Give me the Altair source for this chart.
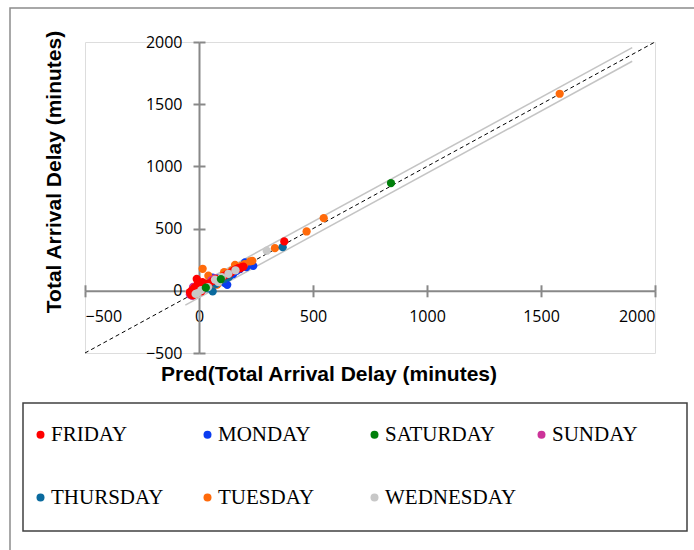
import altair as alt
import pandas as pd

# ---------------- data ----------------
days = ["FRIDAY", "MONDAY", "SATURDAY", "SUNDAY", "THURSDAY", "TUESDAY", "WEDNESDAY"]
colors = ["#FF0000", "#0A3CF0", "#00800A", "#CC3399", "#0A6A9E", "#FF6A0A", "#C8C8C8"]

friday_x = [-35, -30, -25, -20, -15, -10, -5, -30, -10, -5, 0, 5, 10, 20, 30, 45, 60, 75, 90, 105, 120, 135, 143, 150, 158, 165, 172, 180, 187, 195, 374, -40, -20, 15]
friday_y = [-30, -15, -35, -5, -25, 10, -15, 5, 95, 60, 40, 20, -5, 30, 55, 60, 80, 95, 85, 115, 130, 140, 150, 160, 169, 175, 182, 180, 190, 195, 397, -10, 25, 70]

monday_x = [-15, 0, 10, 25, 40, 55, 70, 85, 100, 114, 124, 135, 150, 165, 180, 195, 202, 215, 225, 238, 60, 208]
monday_y = [-5, 15, 35, 20, 50, 45, 75, 100, 90, 62, 48, 120, 135, 160, 175, 205, 228, 210, 215, 201, 105, 190]

saturday_x = [842, 96, 30]
saturday_y = [866, 94, 25]

sunday_x = [-40, -30, -20, -26, 70, 55]
sunday_y = [-30, -40, -20, 32, 100, 85]

thursday_x = [367, 26, 60, 40, 10, -10, 75, 130, 95, 50, 110, -20]
thursday_y = [351, 48, -5, 20, 10, -5, 55, 110, 80, 65, 95, -25]

tuesday_x = [1582, 547, 472, 333, 16, 41, 60, 224, 234, 158, 130, 100, 75, 20, -5, 185, 200, 145, 80, -25, 110]
tuesday_y = [1584, 584, 477, 343, 177, 121, 40, 236, 241, 209, 140, 105, 70, 25, 5, 200, 215, 165, 50, -20, 150]

wednesday_x = [297, -6, 129, 70, 40, 100, -15, 10, 160, 85]
wednesday_y = [322, -19, 137, 90, 30, 110, -25, 5, 165, 70]

diag_x = [-500, 2000]
diag_y = [-500, 2000]
band_x = [-60, 1900]
band_upper = [-5, 1955]
band_lower = [-115, 1845]

ticks = [-500, 0, 500, 1000, 1500, 2000]
x_title = "Pred(Total Arrival Delay (minutes)"
y_title = "Total Arrival Delay (minutes)"

# ---------------- tables ----------------
series = {
    "MONDAY": (monday_x, monday_y),
    "TUESDAY": (tuesday_x, tuesday_y),
    "THURSDAY": (thursday_x, thursday_y),
    "SUNDAY": (sunday_x, sunday_y),
    "FRIDAY": (friday_x, friday_y),
    "WEDNESDAY": (wednesday_x, wednesday_y),
    "SATURDAY": (saturday_x, saturday_y),
}
rows = []
for d, (xv, yv) in series.items():
    for a, b in zip(xv, yv):
        rows.append({"day": d, "pred": a, "actual": b})
pts = pd.DataFrame(rows)
pts["ord"] = range(len(pts))

diag = pd.DataFrame({"x": diag_x, "y": diag_y})
band = pd.DataFrame({
    "x": band_x + band_x,
    "y": band_upper + band_lower,
    "g": ["u"] * len(band_x) + ["l"] * len(band_x),
})

W, H = 570, 311
xs = alt.Scale(domain=[-500, 2000], nice=False, zero=False)
ys = alt.Scale(domain=[-500, 2000], nice=False, zero=False)
# pixel position of the value 0 inside the plot area
x0 = W * 500 / 2500
y0 = H * 2000 / 2500

axis_common = dict(
    values=ticks, grid=False, title=None, tickSize=6, tickWidth=2, format="d",
    tickColor="#888888", domainColor="#888888", domainWidth=2,
    labelFont="Open Sans", labelFontSize=16, labelColor="black",
)

one = pd.DataFrame({"a": [0]})

frame = alt.Chart(one).mark_rect(fill="white", fillOpacity=0, stroke="#8c8c8c", strokeWidth=1.5).encode(
    x=alt.value(-75), x2=alt.value(640), y=alt.value(-34), y2=alt.value(540)
)
legend_box = alt.Chart(one).mark_rect(fill="white", fillOpacity=0, stroke="#404040", strokeWidth=1.5).encode(
    x=alt.value(-62), x2=alt.value(602), y=alt.value(361), y2=alt.value(489)
)

band_layer = alt.Chart(band).mark_line(color="#C4C4C4", strokeWidth=1.5).encode(
    x=alt.X("x:Q", scale=xs, axis=alt.Axis(orient="top", offset=-y0, labels=False, domain=False,
                                           values=ticks, grid=False, title=None, tickSize=6,
                                           tickWidth=2, tickColor="#888888")),
    y=alt.Y("y:Q", scale=ys, axis=alt.Axis(orient="right", offset=x0 - W, labels=False, domain=False,
                                           values=ticks, grid=False, title=None, tickSize=6,
                                           tickWidth=2, tickColor="#888888")),
    detail="g:N",
)

diag_layer = alt.Chart(diag).mark_line(color="black", strokeWidth=1, strokeDash=[4, 3]).encode(
    x=alt.X("x:Q", scale=xs, axis=None),
    y=alt.Y("y:Q", scale=ys, axis=None),
)

points = alt.Chart(pts).mark_point(filled=True, size=68, opacity=1).encode(
    x=alt.X("pred:Q", scale=xs, axis=alt.Axis(orient="bottom", offset=-(H - y0), labelPadding=12, **axis_common)),
    y=alt.Y("actual:Q", scale=ys, axis=alt.Axis(orient="left", offset=-x0, labelPadding=11, **axis_common)),
    color=alt.Color(
        "day:N",
        scale=alt.Scale(domain=days, range=colors),
        legend=alt.Legend(
            orient="none", legendX=-55, legendY=382, columns=4, gridAlign="all",
            direction="horizontal",
            columnPadding=14, rowPadding=41, title=None,
            labelFont="Liberation Serif", labelFontSize=21, labelColor="black",
            labelOffset=0, symbolType="circle", symbolSize=64, symbolStrokeWidth=0,
            symbolOpacity=1, padding=0,
        ),
    ),
    order=alt.Order("ord:Q"),
)

titles_y = alt.Chart(pd.DataFrame({"t": [y_title]})).mark_text(
    angle=270, font="Liberation Sans", fontWeight="bold", fontSize=21, align="center", baseline="middle", color="black"
).encode(text="t:N", x=alt.value(-30), y=alt.value(130))

titles_x = alt.Chart(pd.DataFrame({"t": [x_title]})).mark_text(
    font="Liberation Sans", fontWeight="bold", fontSize=21, align="center", baseline="alphabetic", color="black"
).encode(text="t:N", x=alt.value(244), y=alt.value(339))

chart = alt.layer(
    frame, legend_box, band_layer, diag_layer, points, titles_y, titles_x
).resolve_axis(x="independent", y="independent").resolve_scale(x="shared", y="shared").properties(
    width=W, height=H,
    autosize=alt.AutoSizeParams(type="none"),
    padding={"left": 85, "top": 42, "right": 39, "bottom": 197},
).configure_view(stroke="#C0C0C0", strokeWidth=1.5).configure(background="white")

chart.save("out.html", embed_options={"renderer": "svg", "actions": False})
